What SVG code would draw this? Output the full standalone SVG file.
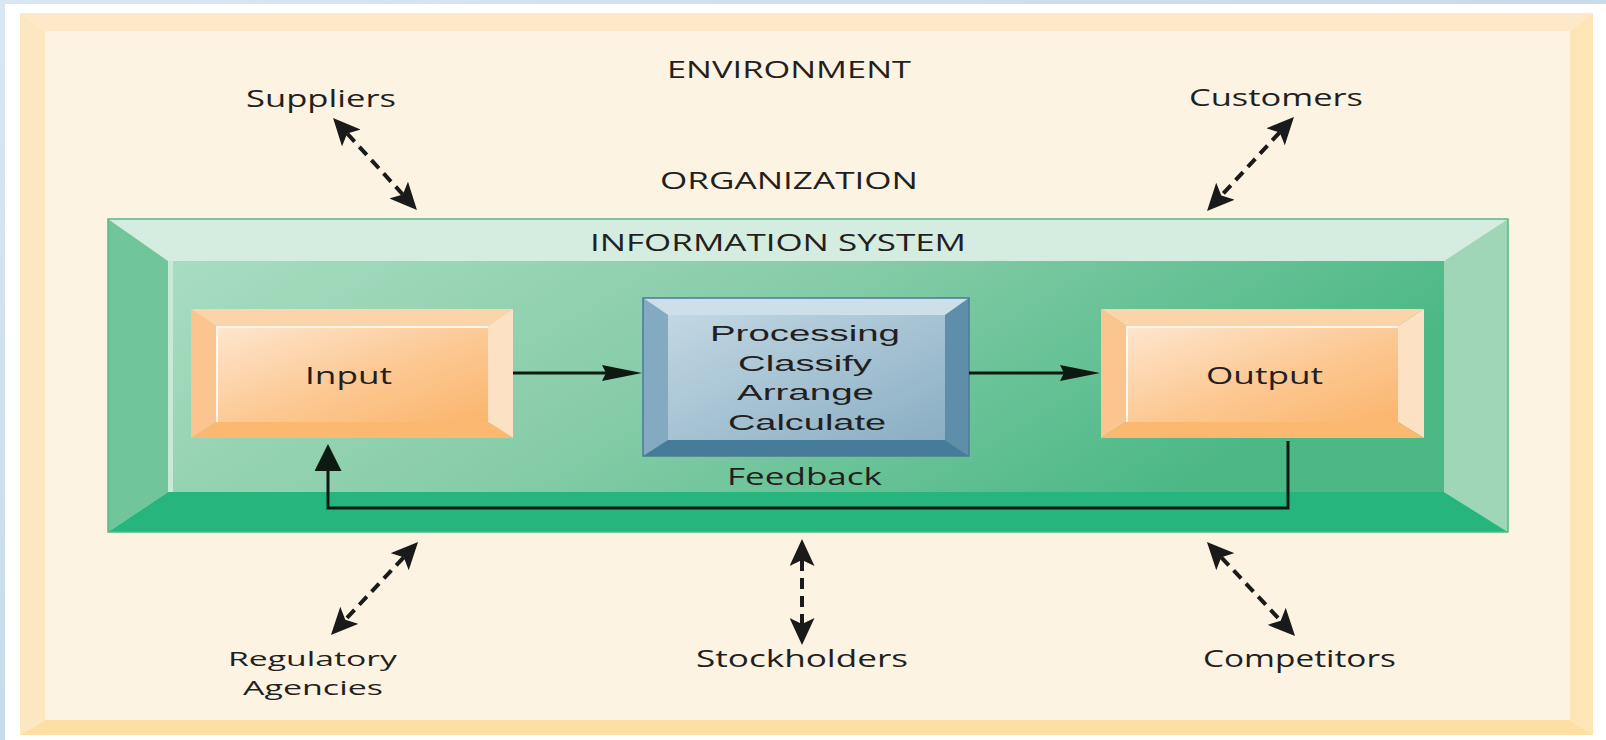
<svg xmlns="http://www.w3.org/2000/svg" width="1606" height="740" viewBox="0 0 1606 740">
  <style>
    .lbl { font-family: "Open Sans", "Noto Sans", "DejaVu Sans", sans-serif; font-size: 23px; fill: #231f20; }
    .sm { font-size: 20px; }
    .proc { font-family: "Liberation Sans", Arial, sans-serif; font-size: 22.5px; fill: #231f20; }
    .solid { stroke: #0d1a12; stroke-width: 3; fill: none; }
    .dash { stroke: #1a1a1a; stroke-width: 4; fill: none; stroke-dasharray: 11 7; }
  </style>
  <defs>
    <linearGradient id="sky" x1="0" y1="0" x2="1" y2="1">
      <stop offset="0" stop-color="#d9e7f2"/>
      <stop offset="0.5" stop-color="#c7dbea"/>
      <stop offset="1" stop-color="#dce9f3"/>
    </linearGradient>
    <linearGradient id="greenIn" x1="0" y1="0" x2="1" y2="0.3">
      <stop offset="0" stop-color="#a9dcc1"/>
      <stop offset="0.5" stop-color="#86cca8"/>
      <stop offset="1" stop-color="#4bb886"/>
    </linearGradient>
    <linearGradient id="orangeIn" x1="0" y1="0" x2="1" y2="1">
      <stop offset="0" stop-color="#fee6cf"/>
      <stop offset="0.55" stop-color="#fcc892"/>
      <stop offset="1" stop-color="#fbb56d"/>
    </linearGradient>
    <linearGradient id="blueIn" x1="0" y1="0" x2="1" y2="1">
      <stop offset="0" stop-color="#c2d7e3"/>
      <stop offset="1" stop-color="#8aaec3"/>
    </linearGradient>
    <marker id="headSolid" markerUnits="userSpaceOnUse" markerWidth="40" markerHeight="16" viewBox="0 0 40 16" refX="4" refY="8" orient="auto">
      <path d="M0,0 L40,8 L0,16 L4,8 z" fill="#0d1a12"/>
    </marker>
    <marker id="headFb" markerUnits="userSpaceOnUse" markerWidth="27" markerHeight="27" viewBox="0 0 27 27" refX="1" refY="13.5" orient="auto">
      <path d="M0,0 L27,13.5 L0,27 z" fill="#0d1a12"/>
    </marker>
    <marker id="headDash" markerUnits="userSpaceOnUse" markerWidth="27" markerHeight="25" viewBox="0 0 27 25" refX="6" refY="12.5" orient="auto-start-reverse">
      <path d="M0,0 L27,12.5 L0,25 L6,12.5 z" fill="#1a1a1a"/>
    </marker>
  </defs>

  <!-- background -->
  <rect x="0" y="0" width="1606" height="740" fill="url(#sky)"/>
  <rect x="5" y="4" width="1601" height="736" fill="#ffffff"/>

  <!-- environment frame -->
  <g id="environment">
    <polygon points="20,13 1593,13 1570,31 45,31" fill="#fde9c7"/>
    <polygon points="20,13 45,31 45,720 20,735" fill="#fde7c0"/>
    <polygon points="1593,13 1593,735 1570,720 1570,31" fill="#fde5b6"/>
    <polygon points="20,735 45,720 1570,720 1593,735" fill="#fddfa6"/>
    <rect x="45" y="31" width="1525" height="689" fill="#fdf3e3"/>
    <text class="lbl" x="667" y="78" textLength="244" lengthAdjust="spacingAndGlyphs">ENVIRONMENT</text>
  </g>

  <g id="organization">
    <text class="lbl" x="660" y="189" textLength="258" lengthAdjust="spacingAndGlyphs">ORGANIZATION</text>
  </g>

  <!-- information system -->
  <g id="information-system">
    <polygon points="108,219 1508,219 1444,261 168,261" fill="#d5ede0"/>
    <polygon points="108,219 168,261 168,492 108,532" fill="#70c59b"/>
    <polygon points="1508,219 1508,532 1444,492 1444,261" fill="#9fd6b8"/>
    <polygon points="108,532 168,492 1444,492 1508,532" fill="#26b67d"/>
    <rect x="168" y="261" width="1276" height="231" fill="url(#greenIn)"/>
    <rect x="168" y="261" width="5" height="231" fill="#c9e9d7"/>
    <rect x="108" y="219" width="1400" height="313" fill="none" stroke="#52bb84" stroke-width="1.5"/>
    <text class="lbl" x="590" y="251" textLength="376" lengthAdjust="spacingAndGlyphs">INFORMATION SYSTEM</text>
  </g>

  <!-- input -->
  <g id="input">
    <polygon points="191,309 513,309 488,326 216,326" fill="#fcd4aa"/>
    <polygon points="191,309 216,326 216,422 191,438" fill="#fbc58f"/>
    <polygon points="513,309 513,438 488,422 488,326" fill="#fde1c4"/>
    <polygon points="191,438 216,422 488,422 513,438" fill="#fbb870"/>
    <rect x="216" y="326" width="272" height="96" fill="url(#orangeIn)"/>
    <polyline points="217,422 217,327 488,327" fill="none" stroke="#fff6ec" stroke-width="2"/>
    <text class="lbl" x="305" y="384" textLength="87" lengthAdjust="spacingAndGlyphs">Input</text>
  </g>

  <!-- processing -->
  <g id="processing">
    <polygon points="643,298 969,298 945,315 668,315" fill="#cde0ea"/>
    <polygon points="643,298 668,315 668,440 643,456" fill="#84aac1"/>
    <polygon points="969,298 969,456 945,440 945,315" fill="#5e8eaa"/>
    <polygon points="643,456 668,440 945,440 969,456" fill="#467c99"/>
    <rect x="668" y="315" width="277" height="125" fill="url(#blueIn)"/>
    <rect x="643" y="298" width="326" height="158" fill="none" stroke="#4a7b97" stroke-width="1.5"/>
    <text class="proc" x="710" y="341" textLength="190" lengthAdjust="spacingAndGlyphs">Processing</text>
    <text class="proc" x="738" y="371" textLength="134" lengthAdjust="spacingAndGlyphs">Classify</text>
    <text class="proc" x="737" y="400" textLength="137" lengthAdjust="spacingAndGlyphs">Arrange</text>
    <text class="proc" x="728" y="430" textLength="158" lengthAdjust="spacingAndGlyphs">Calculate</text>
  </g>

  <!-- output -->
  <g id="output">
    <polygon points="1101,309 1424,309 1398,326 1126,326" fill="#fcd4aa"/>
    <polygon points="1101,309 1126,326 1126,422 1101,438" fill="#fbc58f"/>
    <polygon points="1424,309 1424,438 1398,422 1398,326" fill="#fde1c4"/>
    <polygon points="1101,438 1126,422 1398,422 1424,438" fill="#fbb870"/>
    <rect x="1126" y="326" width="272" height="96" fill="url(#orangeIn)"/>
    <polyline points="1127,422 1127,327 1398,327" fill="none" stroke="#fff6ec" stroke-width="2"/>
    <text class="lbl" x="1206" y="384" textLength="117" lengthAdjust="spacingAndGlyphs">Output</text>
  </g>

  <!-- environment entities -->
  <g id="suppliers">
    <text class="lbl" x="246" y="107" textLength="150" lengthAdjust="spacingAndGlyphs">Suppliers</text>
  </g>
  <g id="customers">
    <text class="lbl" x="1189" y="106" textLength="174" lengthAdjust="spacingAndGlyphs">Customers</text>
  </g>
  <g id="regulatory-agencies">
    <text class="lbl sm" x="228" y="666" textLength="169" lengthAdjust="spacingAndGlyphs">Regulatory</text>
    <text class="lbl sm" x="243" y="695" textLength="140" lengthAdjust="spacingAndGlyphs">Agencies</text>
  </g>
  <g id="stockholders">
    <text class="lbl" x="696" y="667" textLength="212" lengthAdjust="spacingAndGlyphs">Stockholders</text>
  </g>
  <g id="competitors">
    <text class="lbl" x="1203" y="667" textLength="193" lengthAdjust="spacingAndGlyphs">Competitors</text>
  </g>

  <!-- connectors -->
  <g id="connectors">
    <line class="solid" x1="513" y1="373" x2="606" y2="373" marker-end="url(#headSolid)"/>
    <line class="solid" x1="969" y1="373" x2="1064" y2="373" marker-end="url(#headSolid)"/>
    <g id="feedback">
      <path class="solid" stroke-width="3.5" d="M1288,441 V508 H328 V470" marker-end="url(#headFb)"/>
      <text class="lbl" x="727" y="485" textLength="155" lengthAdjust="spacingAndGlyphs">Feedback</text>
    </g>
    <line class="dash" x1="347.2" y1="133.5" x2="402.8" y2="194.5" marker-start="url(#headDash)" marker-end="url(#headDash)"/>
    <line class="dash" x1="1279.7" y1="132.4" x2="1221.3" y2="195.6" marker-start="url(#headDash)" marker-end="url(#headDash)"/>
    <line class="dash" x1="403.7" y1="557.3" x2="345.3" y2="619.7" marker-start="url(#headDash)" marker-end="url(#headDash)"/>
    <line class="dash" x1="802" y1="560" x2="802" y2="624" marker-start="url(#headDash)" marker-end="url(#headDash)"/>
    <line class="dash" x1="1221.3" y1="557.3" x2="1280.7" y2="620.7" marker-start="url(#headDash)" marker-end="url(#headDash)"/>
  </g>
</svg>
